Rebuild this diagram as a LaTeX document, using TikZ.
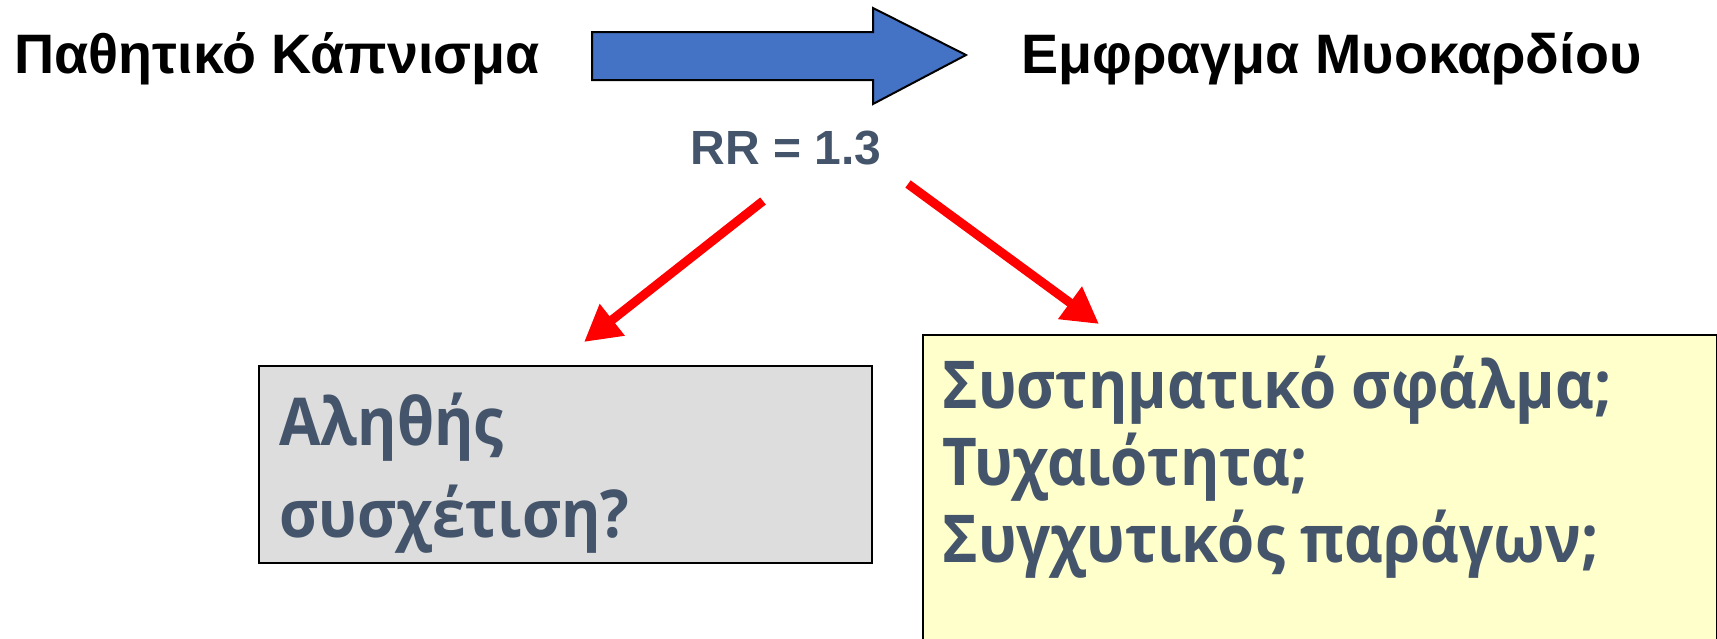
\documentclass[tikz,border=0pt]{standalone}
\usepackage{fontspec}
\usepackage{graphicx}
\setmainfont{Liberation Sans}
\newfontfamily\boxfont{Open Sans}
\usetikzlibrary{arrows.meta}
\definecolor{slate}{HTML}{44546A}
\definecolor{blockblue}{HTML}{4472C4}
\definecolor{grayfill}{HTML}{DDDDDD}
\definecolor{yellowfill}{HTML}{FFFFCC}
\definecolor{redarrow}{HTML}{FF0000}
\newcommand{\narrowtxt}[1]{\scalebox{0.91}[1]{#1}}
\begin{document}
\begin{tikzpicture}[x=0.5pt,y=-0.5pt,
  headtext/.style={font=\fontsize{27.8}{32}\selectfont\bfseries, inner sep=0pt, anchor=base west, text=black},
  rrtext/.style={font=\fontsize{24}{28}\selectfont\bfseries, inner sep=0pt, anchor=base, text=slate},
  boxtext/.style={font=\boxfont\fontsize{33}{40}\selectfont\bfseries, inner sep=0pt, anchor=base west, text=slate},
  panel/.style={draw=black, line width=0.8pt, inner sep=0pt, anchor=north west},
  redlink/.style={draw=redarrow, line width=4.5pt, -{Triangle[length=18pt,width=19pt]}},
  blockarrow/.style={draw=black, line width=1pt, fill=blockblue, line join=miter}
]
\useasboundingbox (0,0) rectangle (1717,638);
\clip (0,0) rectangle (1717,638);

% header texts
\node[headtext] (exposure) at (14,73) {Παθητικό Κάπνισμα};
\node[headtext] (outcome) at (1021,73) {Εμφραγμα Μυοκαρδίου};

% block arrow
\path[blockarrow] (592,32) -- (873,32) -- (873,8) -- (966,55) -- (873,104) -- (873,80) -- (592,80) -- cycle;

% RR label
\node[rrtext] (rr) at (786,164) {RR = 1.3};

% boxes
\node[panel, fill=grayfill, minimum width=306.5pt, minimum height=98.5pt] (truebox) at (258,365) {};
\node[panel, fill=yellowfill, minimum width=397pt, minimum height=170pt] (altbox) at (922,334) {};

% box texts
\node[boxtext] (t1) at (279,445) {\narrowtxt{Αληθής}};
\node[boxtext] (t2) at (279,537) {\narrowtxt{συσχέτιση?}};
\node[boxtext] (y1) at (942,408) {\narrowtxt{Συστηματικό σφάλμα;}};
\node[boxtext] (y2) at (942,485) {\narrowtxt{Τυχαιότητα;}};
\node[boxtext] (y3) at (942,562) {\narrowtxt{Συγχυτικός παράγων;}};

% red arrows
\coordinate (a1s) at (763,201);
\coordinate (a1e) at (584,342);
\coordinate (a2s) at (908,184);
\coordinate (a2e) at (1099,324);
\draw[redlink] (a1s) -- (a1e);
\draw[redlink] (a2s) -- (a2e);
\end{tikzpicture}
\end{document}
